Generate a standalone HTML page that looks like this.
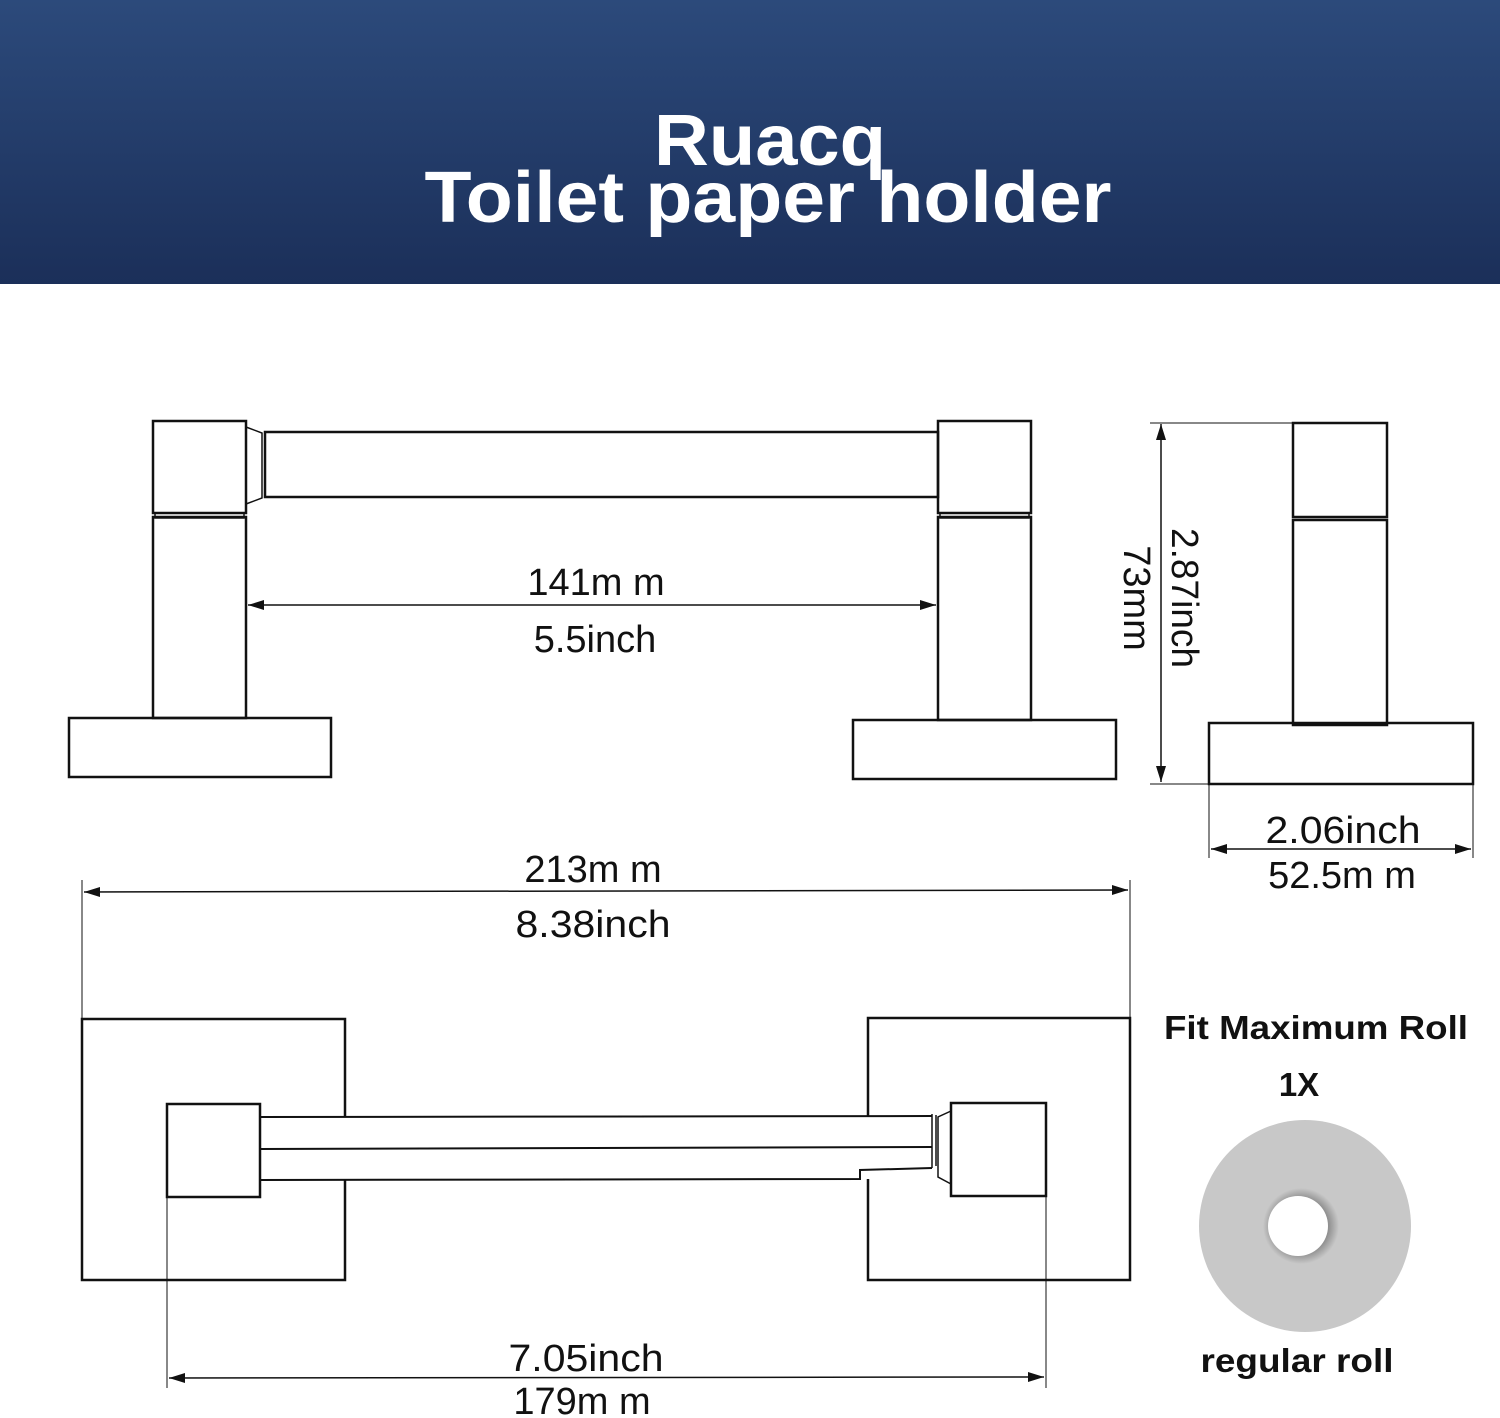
<!DOCTYPE html>
<html><head><meta charset="utf-8"><style>
html,body{margin:0;padding:0;background:#fff}
svg{display:block}
</style></head><body>
<svg width="1500" height="1418" viewBox="0 0 1500 1418" xmlns="http://www.w3.org/2000/svg">
<defs>
<linearGradient id="hg" x1="0" y1="0" x2="0" y2="1">
<stop offset="0" stop-color="#2c4a7b"/><stop offset="1" stop-color="#1b2f59"/>
</linearGradient>
<radialGradient id="rg" cx="0.5" cy="0.5" r="0.5">
<stop offset="0.7" stop-color="#8a8a8a"/><stop offset="1" stop-color="#c8c8c8"/>
</radialGradient>
</defs>
<rect x="0" y="0" width="1500" height="284" fill="url(#hg)"/>
<g font-family="Liberation Sans, sans-serif" font-weight="bold" fill="#fff" text-anchor="middle">
<text x="770" y="165" font-size="72" textLength="232" lengthAdjust="spacingAndGlyphs">Ruacq</text>
<text x="768" y="222" font-size="72" textLength="687" lengthAdjust="spacingAndGlyphs">Toilet paper holder</text>
</g>
<g fill="none" stroke="#111" stroke-width="2.5">
<rect x="153" y="421" width="93" height="92"/>
<rect x="155" y="513" width="89" height="5" stroke-width="1.5"/>
<rect x="153" y="517" width="93" height="201"/>
<rect x="69" y="718" width="262" height="59"/>
<path d="M246 427 L262 433 L262 498 L246 504" stroke-width="1.5"/>
<rect x="265" y="432" width="673" height="65"/>
<rect x="938" y="421" width="93" height="92"/>
<rect x="940" y="513" width="89" height="5" stroke-width="1.5"/>
<rect x="938" y="517" width="93" height="203"/>
<rect x="853" y="720" width="263" height="59"/>
<rect x="1293" y="423" width="94" height="94"/>
<rect x="1293" y="520" width="94" height="205"/>
<rect x="1209" y="723" width="264" height="61"/>
<rect x="82" y="1019" width="263" height="261"/>
<rect x="868" y="1018" width="262" height="262"/>
<rect x="260" y="1117" width="672" height="62" fill="#fff" stroke="none"/>
<rect x="167" y="1104" width="93" height="93"/>
<rect x="951" y="1103" width="95" height="93"/>
<path d="M260 1117 L932 1116 M260 1180 L860 1179 L860 1170 L932 1168 M260 1149 L932 1147" stroke-width="2"/>
<path d="M932 1114 L932 1168 M936 1115 L936 1166 M951 1111 L938 1117 L938 1177 L951 1184" stroke-width="1.5"/>
</g>
<g stroke="#111" stroke-width="1.5" fill="#111">
<line x1="248" y1="605" x2="936" y2="605"/>
<path d="M248 605 L264 600 L264 610Z M936 605 L920 600 L920 610Z" stroke="none"/>
<line x1="1161" y1="424" x2="1161" y2="782"/>
<path d="M1161 424 L1156 440 L1166 440Z M1161 782 L1156 766 L1166 766Z" stroke="none"/>
<line x1="1150" y1="423" x2="1293" y2="423" stroke-width="1"/>
<line x1="1150" y1="784" x2="1209" y2="784" stroke-width="1"/>
<line x1="1209" y1="784" x2="1209" y2="858" stroke-width="1"/>
<line x1="1473" y1="723" x2="1473" y2="858" stroke-width="1"/>
<line x1="1211" y1="849" x2="1471" y2="849"/>
<path d="M1211 849 L1227 844 L1227 854Z M1471 849 L1455 844 L1455 854Z" stroke="none"/>
<line x1="82" y1="880" x2="82" y2="1019" stroke-width="1"/>
<line x1="1130" y1="880" x2="1130" y2="1018" stroke-width="1"/>
<line x1="84" y1="892" x2="1128" y2="890"/>
<path d="M84 892 L100 887 L100 897Z M1128 890 L1112 885 L1112 895Z" stroke="none"/>
<line x1="167" y1="1197" x2="167" y2="1388" stroke-width="1"/>
<line x1="1046" y1="1196" x2="1046" y2="1388" stroke-width="1"/>
<line x1="169" y1="1378" x2="1044" y2="1377"/>
<path d="M169 1378 L185 1373 L185 1383Z M1044 1377 L1028 1372 L1028 1382Z" stroke="none"/>
</g>
<g font-family="Liberation Sans, sans-serif" font-size="38" fill="#111" text-anchor="middle">
<text x="596" y="595">141m m</text>
<text x="595" y="652">5.5inch</text>
<text x="593" y="882">213m m</text>
<text x="593" y="937" textLength="155" lengthAdjust="spacingAndGlyphs">8.38inch</text>
<text x="1343" y="843" textLength="155" lengthAdjust="spacingAndGlyphs">2.06inch</text>
<text x="1342" y="888">52.5m m</text>
<text x="586" y="1371" textLength="155" lengthAdjust="spacingAndGlyphs">7.05inch</text>
<text x="582" y="1414">179m m</text>
<text transform="translate(1172,598) rotate(90)" textLength="140" lengthAdjust="spacingAndGlyphs">2.87inch</text>
<text transform="translate(1124,598) rotate(90)">73mm</text>
</g>
<g font-family="Liberation Sans, sans-serif" font-weight="bold" font-size="33" fill="#111" text-anchor="middle">
<text x="1316" y="1039" textLength="304" lengthAdjust="spacingAndGlyphs">Fit Maximum Roll</text>
<text x="1299" y="1096">1X</text>
<text x="1297" y="1372" textLength="193" lengthAdjust="spacingAndGlyphs">regular roll</text>
</g>
<circle cx="1305" cy="1226" r="106" fill="#c8c8c8"/>
<circle cx="1301" cy="1226" r="38" fill="url(#rg)"/>
<circle cx="1298" cy="1226" r="30" fill="#fff"/>
</svg>
</body></html>
